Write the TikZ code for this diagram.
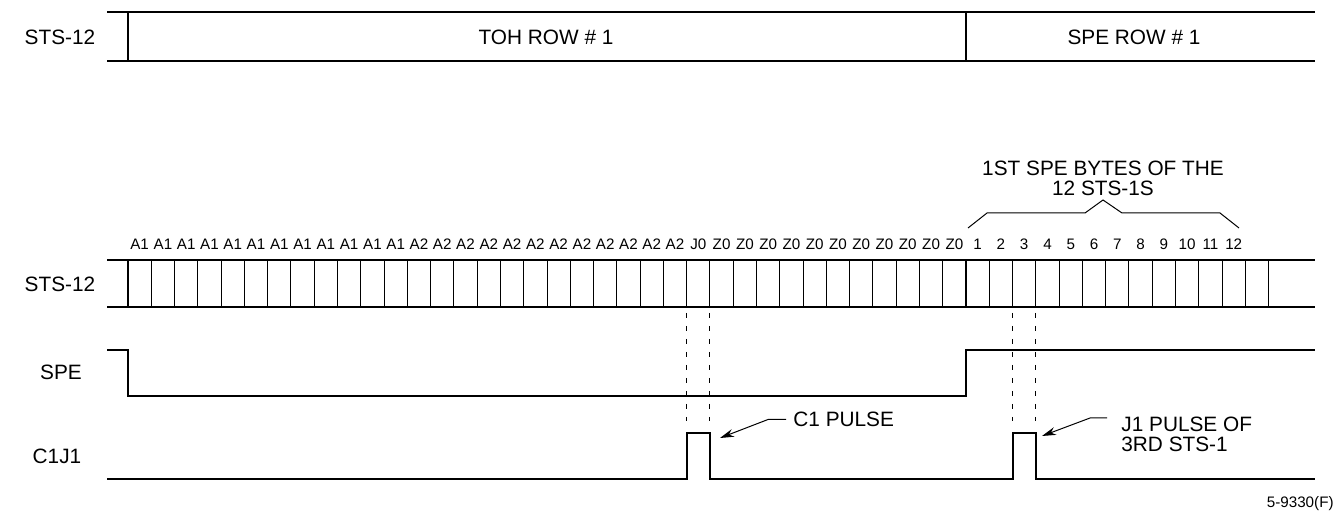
\documentclass[tikz,border=0pt]{standalone}
\usepackage{fontspec}
\setmainfont{Liberation Sans}
\usetikzlibrary{arrows.meta}
\begin{document}
\begin{tikzpicture}[x=0.5pt,y=-0.5pt,
    sig/.style={line width=1pt},
    cell/.style={line width=0.5pt},
    rowlbl/.style={font=\fontsize{10.4}{10}\selectfont},
    bytelbl/.style={font=\fontsize{7.6}{8}\selectfont, inner sep=0pt},
    guide/.style={line width=0.5pt, dash pattern=on 2.5pt off 4pt},
    leader/.style={line width=0.5pt, -{Stealth[length=7pt,width=4pt]}}]
  \useasboundingbox (0,0) rectangle (1338,512);
  \def\X{128}     % left edge of the frames
  \def\W{23.278}  % width of one byte
  \def\L{107}     % start of the lines
  \def\R{1315}    % end of the lines

  % one row of the STS-12 frame
  \draw[sig] (\L,12) -- (\R,12);
  \draw[sig] (\L,61) -- (\R,61);
  \draw[sig] (\X,12) -- (\X,61);
  \draw[sig] (\X+36*\W,12) -- (\X+36*\W,61);
  \node[rowlbl] (sts) at (60,37) {STS-12};
  \node[rowlbl] (toh) at (546,37) {TOH ROW \# 1};
  \node[rowlbl] (spe) at (1134,37) {SPE ROW \# 1};

  % byte by byte
  \draw[sig] (\L,260) -- (\R,260);
  \draw[sig] (\L,307) -- (\R,307);
  \foreach \k in {1,...,35,37,38,...,49}
    \draw[cell] (\X+\k*\W,260) -- (\X+\k*\W,307);
  \draw[sig] (\X,260) -- (\X,307);
  \draw[sig] (\X+36*\W,260) -- (\X+36*\W,307);
  \node[rowlbl] (sts2) at (60,284) {STS-12};

  % byte names
  \foreach \b [count=\k from 0] in {A1,A1,A1,A1,A1,A1,A1,A1,A1,A1,A1,A1,
      A2,A2,A2,A2,A2,A2,A2,A2,A2,A2,A2,A2,J0,Z0,Z0,Z0,Z0,Z0,Z0,Z0,Z0,Z0,Z0,Z0}
    \node[bytelbl] (b\k) at (\X+\k*\W+0.5*\W,244) {\b};
  \foreach \n in {1,...,12}
    \node[bytelbl] (n\n) at (\X+35.5*\W+\n*\W,244) {\n};

  % brace over the first SPE bytes
  \draw[cell] (968,228) -- (987,213) -- (1085,213) -- (1103,200)
    -- (1122,213) -- (1220,213) -- (1239,228);
  \node[rowlbl, align=center] (first) at (1103,178) {1ST SPE BYTES OF THE\\12 STS-1S};

  % SPE signal
  \node[rowlbl] (spelbl) at (61,372) {SPE};
  \draw[sig] (\L,350) -- (\X,350) -- (\X,396) -- (\X+36*\W,396)
    -- (\X+36*\W,350) -- (\R,350);

  % C1J1 signal with its two pulses
  \node[rowlbl] (c1j1) at (57,456) {C1J1};
  \draw[sig] (\L,479) -- (\X+24*\W,479) -- (\X+24*\W,433) -- (\X+25*\W,433)
    -- (\X+25*\W,479) -- (\X+38*\W,479) -- (\X+38*\W,433) -- (\X+39*\W,433)
    -- (\X+39*\W,479) -- (\R,479);

  % dotted guides down from J0 and byte 3
  \foreach \k in {24,25,38,39}
    \draw[guide] (\X+\k*\W,313) -- (\X+\k*\W,421);

  % pulse labels
  \node[rowlbl, anchor=west, inner sep=0pt] (c1lbl) at (793,419.5) {C1 PULSE};
  \coordinate (c1tip) at (720,438);
  \draw[leader] (c1lbl.west) ++(-7,0) -- ++(-18,0) -- (c1tip);

  \node[rowlbl, anchor=north west, align=left, inner sep=0pt] (j1lbl) at (1121,417)
    {J1 PULSE OF\\3RD STS-1};
  \coordinate (j1tip) at (1042,436);
  \draw[leader] (j1lbl.north west) ++(-14,1) -- ++(-17,0) -- (j1tip);

  \node[font=\fontsize{7.6}{8}\selectfont, anchor=east, inner sep=0pt] (fig) at (1334,504) {5-9330(F)};
\end{tikzpicture}
\end{document}
